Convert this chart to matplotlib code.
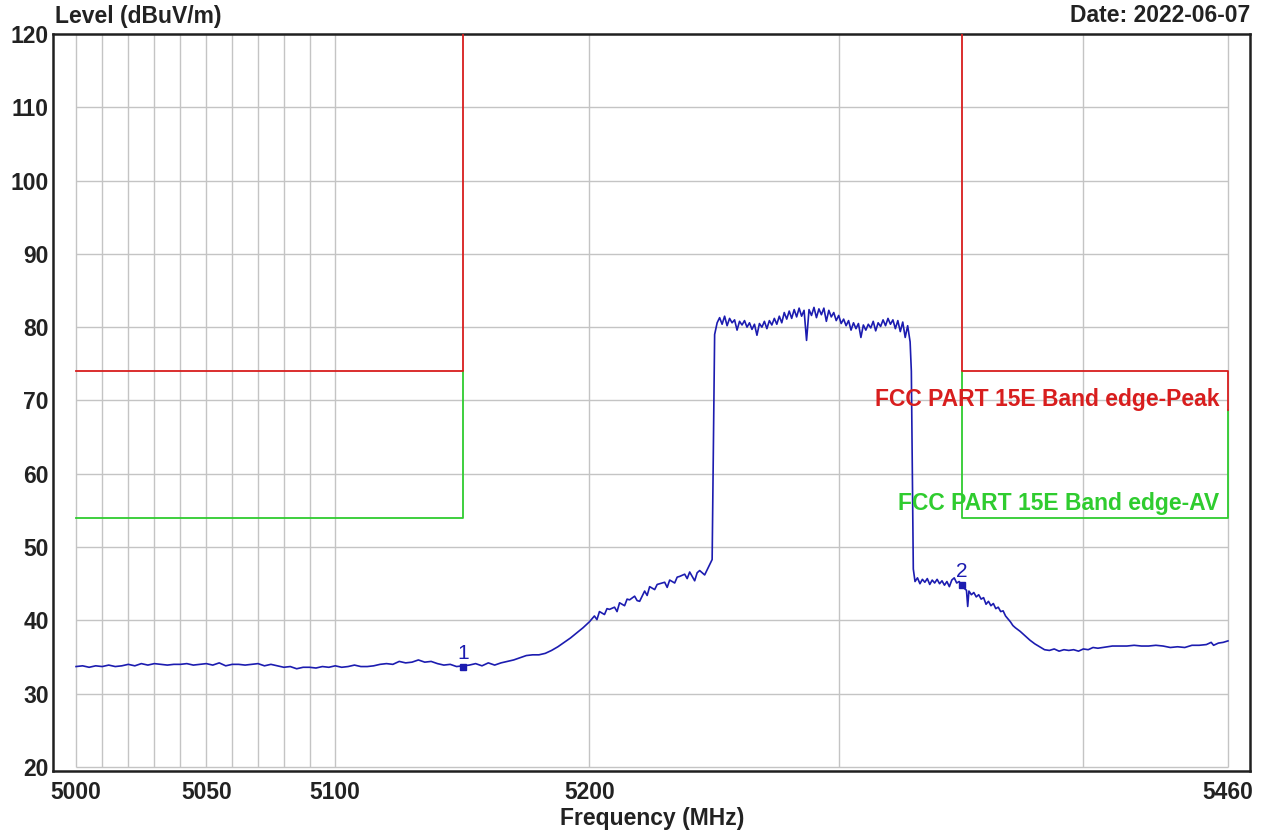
import matplotlib
matplotlib.use("Agg")
import matplotlib.pyplot as plt

# ---------------- data ----------------
freq_floor = [5000, 5002.5, 5005, 5007.5, 5010, 5012.5, 5015, 5017.5, 5020, 5022.5,
              5025, 5027.5, 5030, 5032.5, 5035, 5037.5, 5040, 5042.5, 5045, 5047.5,
              5050, 5052.5, 5055, 5057.5, 5060, 5062.5, 5065, 5067.5, 5070, 5072.5,
              5075, 5077.5, 5080, 5082.5, 5085, 5087.5, 5090, 5092.5, 5095, 5097.5,
              5100, 5102.5, 5105, 5107.5, 5110, 5112.5, 5115, 5117.5, 5120, 5122.5,
              5125, 5127.5, 5130, 5132.5, 5135, 5137.5, 5140, 5142.5, 5145, 5147.5, 5150]
level_floor = [33.7, 33.8, 33.6, 33.8, 33.7, 33.9, 33.7, 33.8, 34.0, 33.8,
               34.1, 33.9, 34.1, 34.0, 33.9, 34.0, 34.0, 34.1, 33.9, 34.0,
               34.1, 33.9, 34.2, 33.8, 34.0, 34.0, 33.9, 34.0, 34.1, 33.8,
               34.0, 33.8, 33.6, 33.7, 33.4, 33.6, 33.6, 33.5, 33.7, 33.6,
               33.8, 33.6, 33.7, 33.9, 33.7, 33.7, 33.8, 34.0, 34.1, 34.0,
               34.4, 34.2, 34.3, 34.6, 34.3, 34.4, 34.1, 33.9, 34.0, 33.7, 33.8]

freq_rise = [5152.5, 5155, 5157.5, 5160, 5162.5, 5165, 5167.5, 5170, 5172.5, 5175,
             5177.5, 5180, 5182.5, 5185, 5187.5, 5190, 5192.5, 5195, 5197.5, 5200,
             5202, 5203, 5204, 5206, 5207, 5208, 5210, 5211, 5212, 5214, 5215, 5216,
             5218, 5219, 5220, 5222, 5223, 5224, 5226, 5227, 5228, 5230, 5231, 5232,
             5234, 5235, 5236, 5238, 5239, 5240, 5242, 5243, 5244, 5246, 5247, 5248, 5249]
level_rise = [33.9, 34.1, 33.8, 34.2, 33.9, 34.2, 34.4, 34.6, 34.9, 35.2,
              35.3, 35.3, 35.5, 35.9, 36.4, 37.0, 37.6, 38.3, 39.0, 39.8,
              40.6, 40.1, 41.2, 40.8, 41.6, 41.5, 41.8, 41.2, 42.4, 42.0, 42.9, 42.8,
              43.3, 42.7, 42.6, 44.0, 43.4, 44.6, 44.2, 44.9, 45.0, 45.2, 44.5, 45.5,
              45.1, 45.9, 46.0, 46.3, 45.7, 46.6, 45.4, 46.5, 46.8, 46.2, 46.9, 47.6, 48.3]

freq_band = [5250, 5251, 5252, 5253, 5254, 5255, 5256, 5257, 5258, 5259,
             5260, 5261, 5262, 5263, 5264, 5265, 5266, 5267, 5268, 5269,
             5270, 5271, 5272, 5273, 5274, 5275, 5276, 5277, 5278, 5279,
             5280, 5281, 5282, 5283, 5284, 5285, 5286, 5287, 5288, 5289,
             5290, 5291, 5292, 5293, 5294, 5295, 5296, 5297, 5298, 5299,
             5300, 5301, 5302, 5303, 5304, 5305, 5306, 5307, 5308, 5309,
             5310, 5311, 5312, 5313, 5314, 5315, 5316, 5317, 5318, 5319,
             5320, 5321, 5322, 5323, 5324, 5325, 5326, 5327, 5328, 5329, 5329.5]
level_band = [79.0, 80.6, 81.3, 80.4, 81.5, 80.2, 81.2, 80.6, 81.0, 79.6,
              80.8, 80.3, 80.9, 80.0, 80.6, 79.7, 80.4, 78.9, 80.5, 80.0,
              80.8, 79.8, 80.9, 80.3, 81.2, 80.4, 81.5, 80.6, 82.0, 81.1,
              82.2, 81.2, 82.4, 81.4, 82.6, 81.5, 82.3, 78.2, 82.4, 81.6,
              82.7, 81.3, 82.5, 81.7, 82.6, 80.8, 82.3, 81.4, 82.0, 80.9,
              81.6, 80.5, 81.1, 80.2, 80.9, 79.6, 80.6, 79.8, 80.5, 78.6,
              80.3, 79.6, 80.4, 79.9, 80.8, 79.5, 80.6, 80.1, 81.0, 80.2,
              81.2, 80.4, 81.0, 79.8, 80.9, 79.4, 80.7, 78.6, 80.2, 78.0, 74.0]

freq_fall = [5330.3, 5331, 5332, 5333, 5334, 5335, 5336, 5337, 5338, 5339,
             5340, 5341, 5342, 5343, 5344, 5345, 5346, 5347, 5348, 5349,
             5350, 5351, 5352, 5352.5, 5353, 5354, 5355, 5356, 5357, 5358,
             5359, 5360, 5361, 5362, 5363, 5364, 5365, 5366, 5367, 5368,
             5369, 5370, 5371, 5372, 5374, 5376, 5378, 5380, 5382, 5384,
             5386, 5388, 5390, 5392, 5394, 5396, 5398, 5400, 5402, 5404,
             5406, 5408, 5410, 5412, 5415, 5418, 5421, 5424, 5427, 5430,
             5433, 5436, 5439, 5442, 5445, 5448, 5451, 5453, 5454, 5456, 5458, 5460]
level_fall = [47.0, 45.3, 45.8, 45.0, 45.6, 45.2, 45.7, 44.9, 45.5, 45.1,
              45.6, 45.0, 45.4, 44.8, 45.3, 44.6, 45.5, 45.8, 45.1, 45.3,
              44.8, 44.4, 44.1, 41.9, 44.0, 43.5, 43.8, 43.2, 43.5, 42.9,
              43.1, 42.2, 42.6, 42.0, 42.3, 41.6, 41.8, 41.2, 41.3, 40.6,
              40.2, 39.8, 39.3, 39.0, 38.5, 37.9, 37.3, 36.8, 36.4, 36.0,
              35.9, 36.1, 35.8, 36.0, 35.9, 36.0, 35.8, 36.1, 36.0, 36.3,
              36.2, 36.3, 36.4, 36.5, 36.5, 36.5, 36.6, 36.5, 36.5, 36.6,
              36.5, 36.3, 36.4, 36.3, 36.6, 36.6, 36.7, 37.0, 36.6, 36.9, 37.0, 37.2]

# limit lines (frequency, level)
peak_left_f = [5000, 5150, 5150]
peak_left_v = [74, 74, 120]
peak_right_f = [5350, 5350, 5460, 5460]
peak_right_v = [120, 74, 74, 68.7]
av_left_f = [5000, 5150, 5150]
av_left_v = [54, 54, 74]
av_right_f = [5350, 5350, 5460, 5460]
av_right_v = [74, 54, 54, 68.7]

markers_f = [5150, 5350]
markers_v = [33.6, 44.8]
marker_labels = ["1", "2"]

x_ticks = [5000, 5050, 5100, 5200, 5460]
x_grid = [5000, 5010, 5020, 5030, 5040, 5050, 5060, 5070, 5080, 5090, 5100,
          5200, 5300, 5400, 5460]
y_ticks = [20, 30, 40, 50, 60, 70, 80, 90, 100, 110, 120]

# ---------------- plot ----------------
plt.rcParams['font.family'] = ['Liberation Sans', 'DejaVu Sans']
fig = plt.figure(figsize=(12.66, 8.34), dpi=100)
ax = fig.add_axes([53 / 1266, (834 - 771) / 834, (1250 - 53) / 1266, (771 - 34) / 834])
ax.set_xscale('log')
ax.set_xlim(4991.2, 5469.2)
ax.set_ylim(19.45, 120)

grid_c = '#c4c4c4'
ax.vlines(x_grid, 20, 120, colors=grid_c, linewidth=1.0, zorder=1)
ax.hlines(y_ticks, 5000, 5460, colors=grid_c, linewidth=1.0, zorder=1)

red = '#d81e1e'
green = '#2fcc2f'
ax.plot(av_left_f, av_left_v, color=green, lw=1.3, zorder=2)
ax.plot(av_right_f, av_right_v, color=green, lw=1.3, zorder=2)
ax.plot(peak_left_f, peak_left_v, color=red, lw=1.3, zorder=3)
ax.plot(peak_right_f, peak_right_v, color=red, lw=1.3, zorder=3)

trace_f = freq_floor + freq_rise + freq_band + freq_fall
trace_v = level_floor + level_rise + level_band + level_fall
blue = '#1c1cb0'
ax.plot(trace_f, trace_v, color=blue, lw=1.2, zorder=4)

ax.plot(markers_f, markers_v, linestyle='none', marker='s', markersize=4.5,
        color=blue, zorder=5)
for f, v, lab in zip(markers_f, markers_v, marker_labels):
    ax.text(f, v + 1.9, lab, color=blue, fontsize=15, ha='center', va='center', zorder=6)

ax.text(5456.5, 70.1, 'FCC PART 15E Band edge-Peak', color=red, fontsize=16.5,
        fontweight='bold', ha='right', va='center', zorder=6)
ax.text(5456.5, 56.0, 'FCC PART 15E Band edge-AV', color=green, fontsize=16.5,
        fontweight='bold', ha='right', va='center', zorder=6)

ax.set_xticks(x_ticks)
ax.set_xticklabels([str(t) for t in x_ticks])
ax.xaxis.set_minor_locator(matplotlib.ticker.NullLocator())
ax.set_yticks(y_ticks)
ax.set_yticklabels([str(t) for t in y_ticks])
ax.tick_params(axis='both', length=0, labelsize=16.5, colors='#222222')
ax.tick_params(axis='x', pad=7)
ax.tick_params(axis='y', pad=3)
for lab in ax.get_xticklabels() + ax.get_yticklabels():
    lab.set_fontweight('bold')

for s in ax.spines.values():
    s.set_linewidth(1.8)
    s.set_color('#202020')

fig.text(55 / 1266, 1 - 16 / 834, 'Level (dBuV/m)', fontsize=16.5, fontweight='bold',
         color='#222222', ha='left', va='center')
fig.text(1250 / 1266, 1 - 15 / 834, 'Date: 2022-06-07', fontsize=16.5, fontweight='bold',
         color='#222222', ha='right', va='center')
fig.text(652 / 1266, 1 - 819 / 834, 'Frequency (MHz)', fontsize=16.5, fontweight='bold',
         color='#222222', ha='center', va='center')

fig.savefig('out.png', dpi=100)
